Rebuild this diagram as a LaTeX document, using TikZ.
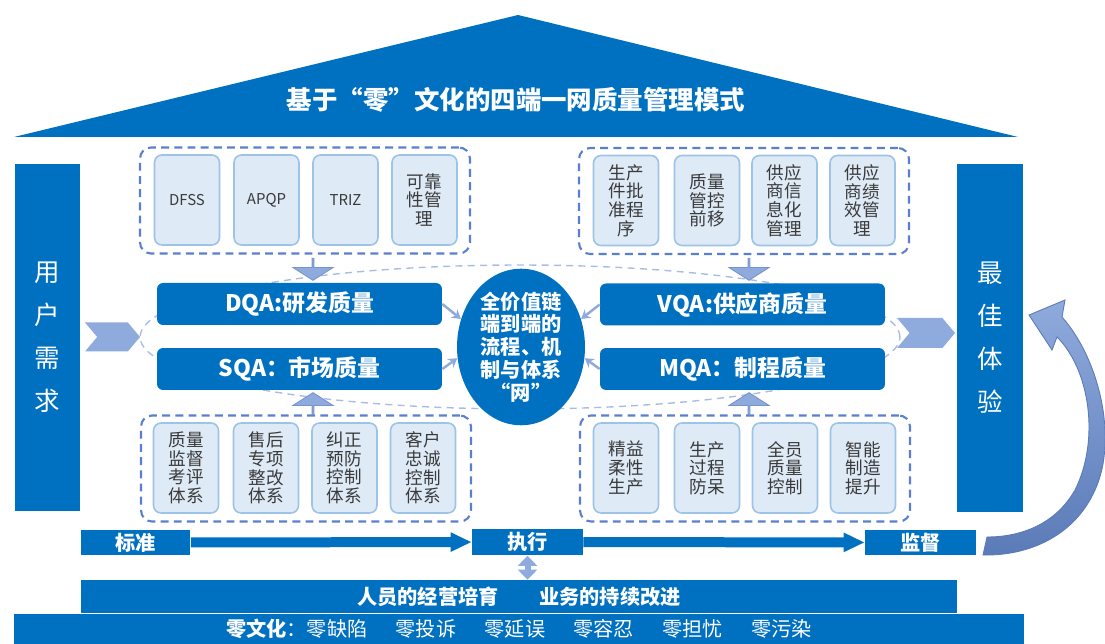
\documentclass[tikz,border=0pt]{standalone}
\usepackage{fontspec}
\setmainfont{Noto Sans CJK SC}
\usetikzlibrary{arrows.meta,shapes.geometric,shapes.arrows,shapes.symbols}

\definecolor{qblue}{HTML}{0070C0}
\definecolor{cardfill}{HTML}{DEEAF6}
\definecolor{cardline}{HTML}{9DC3E6}
\definecolor{groupline}{HTML}{5B7FCF}
\definecolor{ringline}{HTML}{A9BDE4}
\definecolor{arrowfill}{HTML}{8FAADC}
\definecolor{arrowline}{HTML}{7593CE}
\definecolor{loopdark}{HTML}{5B7BB8}
\definecolor{cardtext}{HTML}{3A3A3A}

\tikzset{
  pillar/.style={fill=qblue, text=white, minimum width=1.32cm, minimum height=6.96cm,
    align=center, font=\fontsize{14.5}{24.5}\selectfont},
  group/.style={draw=groupline, fill=white, line width=1.2pt, dash pattern=on 4.5pt off 3pt,
    rounded corners=0.22cm, minimum width=6.6cm, minimum height=2.12cm},
  card/.style={draw=cardline, fill=cardfill, line width=0.9pt, rounded corners=0.15cm,
    minimum width=1.3cm, minimum height=1.8cm, align=center, text=cardtext,
    font=\fontsize{10}{10.6}\selectfont, inner sep=0pt},
  qabox/.style={fill=qblue, rounded corners=0.12cm, minimum width=5.7cm, minimum height=0.84cm,
    text=white, font=\fontsize{13}{15}\selectfont\bfseries},
  hub/.style={ellipse, fill=qblue, text=white, minimum width=2.56cm, minimum height=3.04cm,
    align=center, inner sep=0pt, font=\fontsize{11.5}{13}\selectfont\bfseries},
  blockarrow/.style={single arrow, fill=arrowfill, draw=arrowline, line width=0.5pt,
    minimum height=0.44cm, minimum width=0.8cm, single arrow head extend=0.18cm,
    single arrow tip angle=115, inner sep=0pt},
  chevron/.style={signal, signal from=west, signal to=east, fill=arrowfill,
    minimum height=0.58cm, signal pointer angle=100, inner sep=0pt},
  tohub/.style={draw=arrowfill, line width=1.4pt, -{Stealth[length=5pt,width=6pt]}},
  stage/.style={fill=qblue, text=white, minimum width=2.2cm, minimum height=0.5cm,
    inner sep=0pt, font=\fontsize{11.5}{13}\selectfont\bfseries},
  flow/.style={draw=qblue, line width=0.2cm, -{Triangle[width=0.36cm,length=0.42cm]}},
  link/.style={draw=arrowfill, line width=0.12cm,
    {Triangle[width=0.38cm,length=0.2cm]}-{Triangle[width=0.38cm,length=0.2cm]}},
  band/.style={fill=qblue, text=white, inner sep=0pt, font=\fontsize{11.5}{13}\selectfont}
}

\begin{document}
\begin{tikzpicture}[x=0.02cm,y=-0.02cm]
  \useasboundingbox (0,0) rectangle (1105,644);

  % roof
  \fill[qblue] (14,137) -- (518,15) -- (1018,137) -- cycle;
  \node[text=white, font=\fontsize{14.5}{16}\selectfont\bfseries] (title) at (516,100)
    {基于“零”文化的四端一网质量管理模式};

  % dashed ring behind the four QA boxes
  \draw[ringline, line width=0.8pt, dash pattern=on 4pt off 3pt]
    (520,337) ellipse [x radius=7.6cm, y radius=1.44cm];

  % pillars
  \node[pillar] (need) at (47.5,337.5) {用\\户\\需\\求};
  \node[pillar] (best) at (990,338) {最\\佳\\体\\验};
  \node[chevron, minimum width=1.1cm] (inarrow) at (112.5,337) {};
  \node[chevron, minimum width=1.16cm, minimum height=0.6cm] (outarrow) at (926,333) {};

  % groups of measures
  \node[group] (devgrp) at (305,200.5) {};
  \node[group] (vengrp) at (744,201) {};
  \node[group] (mktgrp) at (306,468.5) {};
  \node[group] (mfggrp) at (745,468.5) {};

  \node[card, font=\fontsize{8.5}{10}\selectfont] (dfss) at (187,200) {DFSS};
  \node[card, font=\fontsize{8.5}{10}\selectfont] (apqp) at (266.5,200) {APQP};
  \node[card, font=\fontsize{8.5}{10}\selectfont] (triz) at (345.5,200) {TRIZ};
  \node[card] (reliab) at (424.5,200) {可靠\\性管\\理};

  \node[card] (ppap) at (626,200.5) {生产\\件批\\准程\\序};
  \node[card] (shift) at (707,200.5) {质量\\管控\\前移};
  \node[card] (supinfo) at (784.5,200.5) {供应\\商信\\息化\\管理};
  \node[card] (supperf) at (862.5,200.5) {供应\\商绩\\效管\\理};

  \node[card] (audit) at (186,468) {质量\\监督\\考评\\体系};
  \node[card] (service) at (266,468) {售后\\专项\\整改\\体系};
  \node[card] (capa) at (344.5,468) {纠正\\预防\\控制\\体系};
  \node[card] (loyal) at (423,468) {客户\\忠诚\\控制\\体系};

  \node[card] (lean) at (626,468) {精益\\柔性\\生产};
  \node[card] (proof) at (707,468) {生产\\过程\\防呆};
  \node[card] (allstaff) at (785,468) {全员\\质量\\控制};
  \node[card] (smart) at (863,468) {智能\\制造\\提升};

  % block arrows into the QA boxes
  \node[blockarrow, rotate=-90] (devdown) at (313,269) {};
  \node[blockarrow, rotate=-90] (vendown) at (749,269) {};
  \node[blockarrow, rotate=90] (mktup) at (313,404) {};
  \node[blockarrow, rotate=90] (mfgup) at (749,404) {};

  % four ends
  \node[qabox] (dqa) at (299.5,304) {DQA:研发质量};
  \node[qabox] (sqa) at (299.5,369) {SQA：市场质量};
  \node[qabox] (vqa) at (742.5,304.5) {VQA:供应商质量};
  \node[qabox] (mqa) at (742.5,369) {MQA：制程质量};

  \node[hub] (hub) at (521,347) {全价值链\\端到端的\\流程、机\\制与体系\\“网”};

  \draw[tohub] (dqa.east) -- (hub.155);
  \draw[tohub] (sqa.east) -- (hub.190);
  \draw[tohub] (vqa.west) -- (hub.25);
  \draw[tohub] (mqa.west) -- (hub.-10);

  % standard - execute - supervise
  \node[stage] (std) at (135.5,542.5) {标准};
  \node[stage, minimum width=2.22cm, minimum height=0.54cm] (exe) at (527.5,542) {执行};
  \node[stage, minimum width=2.22cm] (sup) at (920.5,542.5) {监督};
  \draw[flow] (std) -- (exe);
  \draw[flow] (exe) -- (sup);

  % loop back to the best experience
  \shadedraw[top color=arrowfill, bottom color=loopdark, draw=loopdark, line width=0.5pt]
    (983,555) .. controls (1030,556) and (1075,535) .. (1095,490)
    .. controls (1118,440) and (1100,360) .. (1062,317)
    -- (1065,300) -- (1029,315) -- (1052,350) -- (1057,337)
    .. controls (1090,370) and (1100,440) .. (1075,490)
    .. controls (1055,525) and (1020,537) .. (987,537) -- cycle;

  % foundation
  \node[band, minimum width=17.52cm, minimum height=0.66cm,
    font=\fontsize{11.5}{13}\selectfont\bfseries] (people) at (519,596.5)
    {人员的经营培育\hspace{2em}业务的持续改进};
  \node[band, minimum width=20.2cm, minimum height=0.6cm] (zero) at (519,629)
    {\textbf{零文化}：零缺陷\hspace{1.4em}零投诉\hspace{1.4em}零延误\hspace{1.4em}零容忍\hspace{1.4em}零担忧\hspace{1.4em}零污染};
  \draw[link] (exe.south) -- (exe.south |- people.north);
\end{tikzpicture}
\end{document}
